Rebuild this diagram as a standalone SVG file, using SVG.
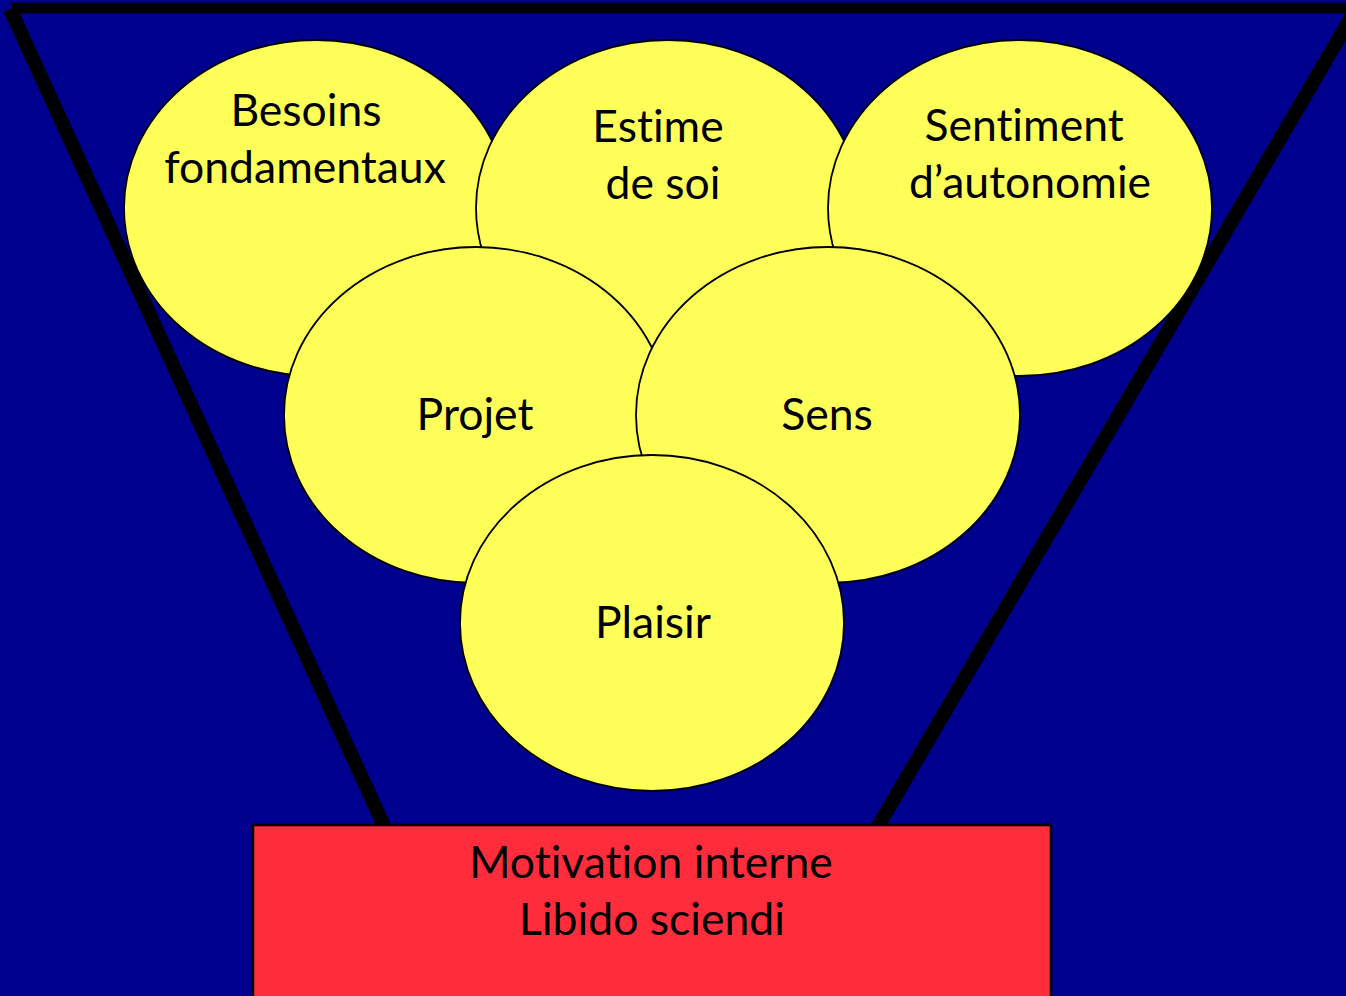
<svg xmlns="http://www.w3.org/2000/svg" width="1346" height="996" viewBox="0 0 1346 996">
  <style>
    .bg { fill: #00008F; }
    .funnel { stroke: #000000; fill: none; }
    .bubble { fill: #FFFF59; stroke: #000000; stroke-width: 1.8; }
    .base { fill: #FF2D3C; stroke: #000000; stroke-width: 2.5; }
    .label { font-family: Lato, "Liberation Sans", sans-serif; font-size: 44.5px; fill: #000000; text-anchor: middle; font-variant-ligatures: none; font-feature-settings: "liga" 0, "clig" 0; }
  </style>

  <rect class="bg" x="0" y="0" width="1346" height="996"/>

  <!-- funnel outline -->
  <g id="funnel">
    <line class="funnel" x1="12" y1="8" x2="1346" y2="8" stroke-width="11"/>
    <line class="funnel" x1="10" y1="9" x2="395" y2="850" stroke-width="14"/>
    <line class="funnel" x1="1356" y1="9" x2="870" y2="840" stroke-width="14"/>
  </g>

  <g id="connectors"></g>

  <!-- top row -->
  <g id="besoins">
    <ellipse class="bubble" cx="316" cy="208" rx="192" ry="168"/>
    <text class="label" x="306" y="126">Besoins</text>
    <text class="label" x="305" y="183">fondamentaux</text>
  </g>
  <g id="estime">
    <ellipse class="bubble" cx="668" cy="208" rx="192" ry="168"/>
    <text class="label" x="658" y="142">Estime</text>
    <text class="label" x="663" y="199">de soi</text>
  </g>
  <g id="sentiment">
    <ellipse class="bubble" cx="1020" cy="208" rx="192" ry="168"/>
    <text class="label" x="1024" y="141">Sentiment</text>
    <text class="label" x="1030" y="198">d’autonomie</text>
  </g>

  <!-- middle row -->
  <g id="projet">
    <ellipse class="bubble" cx="476" cy="415" rx="192" ry="168"/>
    <text class="label" x="475" y="430">Projet</text>
  </g>
  <g id="sens">
    <ellipse class="bubble" cx="828" cy="415" rx="192" ry="168"/>
    <text class="label" x="827" y="430">Sens</text>
  </g>

  <!-- bottom -->
  <g id="plaisir">
    <ellipse class="bubble" cx="652" cy="623" rx="192" ry="168"/>
    <text class="label" x="653" y="638">Plaisir</text>
  </g>

  <g id="motivation">
    <rect class="base" x="253" y="825" width="798" height="190"/>
    <text class="label" x="651" y="878">Motivation interne</text>
    <text class="label" x="652" y="935">Libido sciendi</text>
  </g>
</svg>
